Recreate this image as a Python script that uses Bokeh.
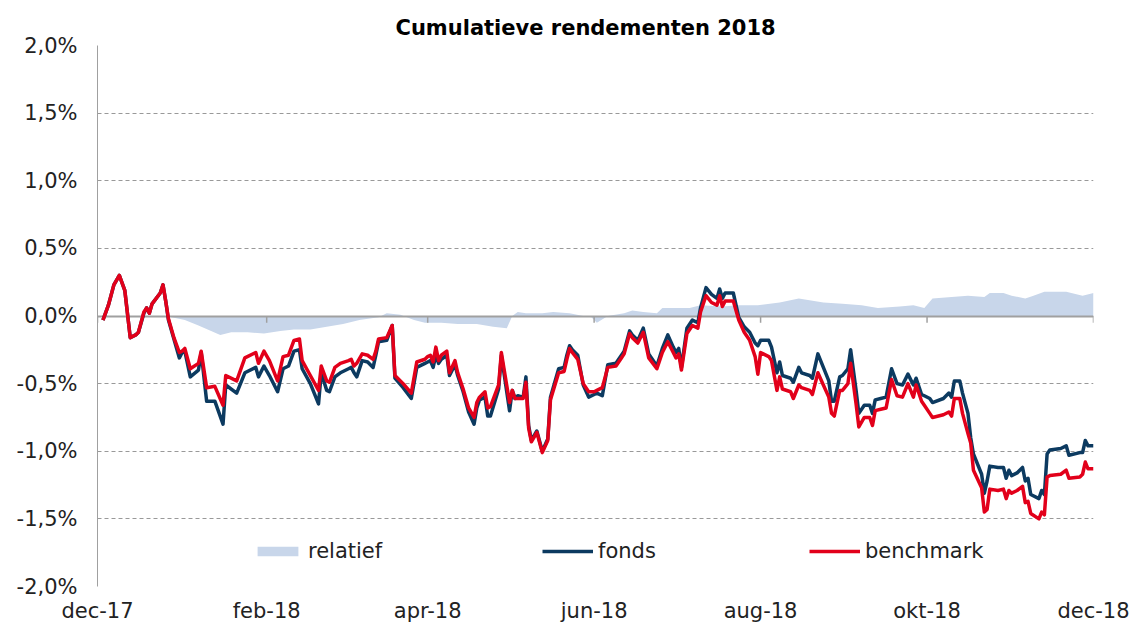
import pandas as pd
from bokeh.plotting import figure
from bokeh.models import Range1d, FixedTicker, Legend, LegendItem
from bokeh.embed import file_html
from bokeh.resources import INLINE

# ---------------- data ----------------
dates = [
    "2017-12-03", "2017-12-05", "2017-12-07", "2017-12-09", "2017-12-11", "2017-12-13", "2017-12-15", "2017-12-16",
    "2017-12-18", "2017-12-19", "2017-12-20", "2017-12-21", "2017-12-24", "2017-12-25", "2017-12-26", "2017-12-27",
    "2017-12-29", "2017-12-31", "2018-01-01", "2018-01-02", "2018-01-04", "2018-01-07", "2018-01-08", "2018-01-10",
    "2018-01-13", "2018-01-16", "2018-01-17", "2018-01-21", "2018-01-24", "2018-01-28", "2018-01-29", "2018-01-31",
    "2018-02-02", "2018-02-05", "2018-02-07", "2018-02-09", "2018-02-11", "2018-02-13", "2018-02-14", "2018-02-17",
    "2018-02-20", "2018-02-21", "2018-02-23", "2018-02-24", "2018-02-26", "2018-02-28", "2018-03-03", "2018-03-04",
    "2018-03-05", "2018-03-06", "2018-03-08", "2018-03-10", "2018-03-12", "2018-03-13", "2018-03-14", "2018-03-17",
    "2018-03-19", "2018-03-20", "2018-03-23", "2018-03-26", "2018-03-28", "2018-03-31", "2018-04-01", "2018-04-02",
    "2018-04-03", "2018-04-04", "2018-04-05", "2018-04-06", "2018-04-08", "2018-04-09", "2018-04-11", "2018-04-12",
    "2018-04-14", "2018-04-16", "2018-04-18", "2018-04-19", "2018-04-20", "2018-04-22", "2018-04-23", "2018-04-24",
    "2018-04-27", "2018-04-28", "2018-05-01", "2018-05-02", "2018-05-03", "2018-05-04", "2018-05-06", "2018-05-07",
    "2018-05-08", "2018-05-09", "2018-05-11", "2018-05-13", "2018-05-15", "2018-05-16", "2018-05-19", "2018-05-21",
    "2018-05-22", "2018-05-23", "2018-05-24", "2018-05-26", "2018-05-28", "2018-05-30", "2018-06-01", "2018-06-02",
    "2018-06-04", "2018-06-06", "2018-06-09", "2018-06-11", "2018-06-12", "2018-06-14", "2018-06-15", "2018-06-17",
    "2018-06-19", "2018-06-21", "2018-06-24", "2018-06-26", "2018-06-28", "2018-06-30", "2018-07-01", "2018-07-02",
    "2018-07-03", "2018-07-05", "2018-07-07", "2018-07-09", "2018-07-10", "2018-07-12", "2018-07-14", "2018-07-16",
    "2018-07-17", "2018-07-18", "2018-07-19", "2018-07-22", "2018-07-24", "2018-07-26", "2018-07-28", "2018-07-30",
    "2018-07-31", "2018-08-01", "2018-08-04", "2018-08-05", "2018-08-07", "2018-08-08", "2018-08-09", "2018-08-12",
    "2018-08-13", "2018-08-15", "2018-08-16", "2018-08-19", "2018-08-20", "2018-08-22", "2018-08-24", "2018-08-26",
    "2018-08-27", "2018-08-28", "2018-08-30", "2018-08-31", "2018-09-02", "2018-09-03", "2018-09-05", "2018-09-06",
    "2018-09-08", "2018-09-10", "2018-09-11", "2018-09-12", "2018-09-14", "2018-09-16", "2018-09-18", "2018-09-20",
    "2018-09-22", "2018-09-24", "2018-09-26", "2018-09-27", "2018-09-29", "2018-09-30", "2018-10-02", "2018-10-03",
    "2018-10-07", "2018-10-09", "2018-10-10", "2018-10-11", "2018-10-13", "2018-10-14", "2018-10-16", "2018-10-17",
    "2018-10-18", "2018-10-21", "2018-10-22", "2018-10-23", "2018-10-24", "2018-10-27", "2018-10-29", "2018-10-30",
    "2018-10-31", "2018-11-01", "2018-11-03", "2018-11-05", "2018-11-06", "2018-11-07", "2018-11-08", "2018-11-11",
    "2018-11-12", "2018-11-13", "2018-11-14", "2018-11-15", "2018-11-19", "2018-11-21", "2018-11-22", "2018-11-26",
    "2018-11-27", "2018-11-28", "2018-11-29", "2018-12-01",
]

fonds = [
    -0.03, 0.08, 0.23, 0.30, 0.19, -0.16, -0.14, -0.12,
    0.02, 0.06, 0.02, 0.09, 0.17, 0.23, 0.11, -0.03,
    -0.17, -0.31, -0.27, -0.26, -0.45, -0.40, -0.27, -0.63,
    -0.63, -0.80, -0.51, -0.57, -0.42, -0.38, -0.45, -0.37,
    -0.44, -0.56, -0.39, -0.37, -0.26, -0.25, -0.39, -0.50,
    -0.65, -0.42, -0.55, -0.56, -0.45, -0.42, -0.39, -0.38,
    -0.42, -0.45, -0.33, -0.34, -0.38, -0.29, -0.19, -0.18,
    -0.07, -0.46, -0.53, -0.61, -0.38, -0.35, -0.34, -0.33,
    -0.38, -0.29, -0.35, -0.32, -0.29, -0.44, -0.36, -0.44,
    -0.56, -0.71, -0.80, -0.68, -0.62, -0.60, -0.74, -0.74,
    -0.54, -0.29, -0.70, -0.55, -0.61, -0.59, -0.60, -0.45,
    -0.81, -0.92, -0.85, -1.00, -0.91, -0.60, -0.39, -0.38,
    -0.29, -0.22, -0.25, -0.29, -0.51, -0.60, -0.58, -0.57,
    -0.59, -0.36, -0.35, -0.29, -0.26, -0.11, -0.14, -0.18,
    -0.09, -0.28, -0.37, -0.24, -0.14, -0.23, -0.27, -0.24,
    -0.38, -0.09, -0.03, -0.05, 0.06, 0.21, 0.16, 0.13,
    0.20, 0.13, 0.17, 0.17, -0.01, -0.08, -0.12, -0.20,
    -0.22, -0.18, -0.18, -0.23, -0.42, -0.34, -0.44, -0.46,
    -0.49, -0.38, -0.42, -0.44, -0.46, -0.28, -0.38, -0.48,
    -0.63, -0.63, -0.45, -0.44, -0.39, -0.25, -0.55, -0.72,
    -0.66, -0.66, -0.72, -0.62, -0.61, -0.60, -0.39, -0.50,
    -0.51, -0.43, -0.51, -0.46, -0.58, -0.59, -0.61, -0.64,
    -0.61, -0.57, -0.60, -0.48, -0.48, -0.57, -0.72, -0.90,
    -1.02, -1.17, -1.31, -1.22, -1.11, -1.12, -1.12, -1.20,
    -1.14, -1.18, -1.16, -1.12, -1.22, -1.20, -1.32, -1.35,
    -1.29, -1.32, -1.02, -0.99, -0.98, -0.96, -1.03, -1.01,
    -1.01, -0.92, -0.96, -0.96,
]

benchmark = [
    -0.03, 0.08, 0.23, 0.30, 0.19, -0.16, -0.14, -0.12,
    0.03, 0.06, 0.02, 0.09, 0.17, 0.23, 0.11, -0.02,
    -0.16, -0.27, -0.26, -0.24, -0.39, -0.35, -0.26, -0.53,
    -0.52, -0.66, -0.44, -0.48, -0.31, -0.27, -0.35, -0.26,
    -0.33, -0.48, -0.30, -0.29, -0.18, -0.17, -0.33, -0.44,
    -0.55, -0.37, -0.48, -0.49, -0.38, -0.35, -0.33, -0.32,
    -0.37, -0.35, -0.28, -0.29, -0.32, -0.26, -0.17, -0.16,
    -0.07, -0.44, -0.50, -0.57, -0.34, -0.32, -0.30, -0.29,
    -0.34, -0.23, -0.33, -0.29, -0.26, -0.42, -0.33, -0.42,
    -0.54, -0.68, -0.75, -0.64, -0.60, -0.56, -0.68, -0.67,
    -0.51, -0.27, -0.64, -0.55, -0.61, -0.61, -0.61, -0.49,
    -0.83, -0.93, -0.86, -1.01, -0.92, -0.62, -0.42, -0.41,
    -0.32, -0.24, -0.27, -0.32, -0.50, -0.56, -0.56, -0.55,
    -0.53, -0.38, -0.37, -0.31, -0.28, -0.13, -0.16, -0.20,
    -0.12, -0.31, -0.39, -0.27, -0.19, -0.27, -0.31, -0.28,
    -0.40, -0.13, -0.07, -0.09, 0.03, 0.15, 0.10, 0.08,
    0.15, 0.07, 0.11, 0.11, -0.03, -0.12, -0.18, -0.30,
    -0.43, -0.27, -0.30, -0.33, -0.55, -0.45, -0.54, -0.56,
    -0.61, -0.51, -0.53, -0.55, -0.58, -0.42, -0.51, -0.60,
    -0.72, -0.74, -0.55, -0.55, -0.50, -0.35, -0.65, -0.82,
    -0.75, -0.75, -0.81, -0.70, -0.69, -0.68, -0.47, -0.59,
    -0.60, -0.50, -0.60, -0.51, -0.63, -0.66, -0.72, -0.75,
    -0.73, -0.71, -0.74, -0.61, -0.61, -0.72, -0.87, -0.94,
    -1.14, -1.27, -1.45, -1.43, -1.28, -1.29, -1.28, -1.35,
    -1.29, -1.31, -1.29, -1.26, -1.38, -1.37, -1.46, -1.50,
    -1.45, -1.47, -1.19, -1.18, -1.17, -1.14, -1.20, -1.19,
    -1.17, -1.08, -1.13, -1.13,
]

rel_dates = [
    "2017-12-03", "2017-12-26", "2018-01-02", "2018-01-07", "2018-01-15", "2018-01-19", "2018-01-25", "2018-01-31",
    "2018-02-06", "2018-02-11", "2018-02-17", "2018-02-23", "2018-03-01", "2018-03-07", "2018-03-14", "2018-03-17",
    "2018-03-22", "2018-03-27", "2018-03-31", "2018-04-06", "2018-04-12", "2018-04-19", "2018-04-25", "2018-04-30",
    "2018-05-02", "2018-05-04", "2018-05-07", "2018-05-13", "2018-05-17", "2018-05-23", "2018-05-28", "2018-05-31",
    "2018-06-02", "2018-06-06", "2018-06-12", "2018-06-15", "2018-06-19", "2018-06-24", "2018-06-26", "2018-06-30",
    "2018-07-06", "2018-07-10", "2018-07-18", "2018-07-24", "2018-07-31", "2018-08-08", "2018-08-15", "2018-08-24",
    "2018-08-31", "2018-09-07", "2018-09-13", "2018-09-21", "2018-09-26", "2018-09-30", "2018-10-03", "2018-10-10",
    "2018-10-16", "2018-10-22", "2018-10-24", "2018-10-29", "2018-11-01", "2018-11-06", "2018-11-09", "2018-11-13",
    "2018-11-21", "2018-11-27", "2018-12-01",
]
relatief = [
    0.00, 0.00, -0.03, -0.07, -0.14, -0.12, -0.12, -0.13,
    -0.11, -0.10, -0.10, -0.08, -0.06, -0.03, -0.01, 0.02,
    0.01, -0.03, -0.05, -0.05, -0.06, -0.06, -0.08, -0.09,
    0.00, 0.03, 0.02, 0.02, 0.03, 0.02, 0.00, -0.01,
    -0.05, 0.00, 0.02, 0.04, 0.03, 0.02, 0.06, 0.06,
    0.06, 0.08, 0.07, 0.08, 0.08, 0.10, 0.13, 0.10,
    0.09, 0.08, 0.06, 0.07, 0.08, 0.06, 0.13, 0.14,
    0.15, 0.14, 0.17, 0.17, 0.15, 0.13, 0.15, 0.18,
    0.18, 0.15, 0.17,
]

y_ticks = [-2.0, -1.5, -1.0, -0.5, 0.0, 0.5, 1.0, 1.5, 2.0]
y_labels = ["-2,0%", "-1,5%", "-1,0%", "-0,5%", "0,0%", "0,5%", "1,0%", "1,5%", "2,0%"]
x_tick_dates = ["2017-12-01", "2018-02-01", "2018-04-01", "2018-06-01", "2018-08-01", "2018-10-01", "2018-12-01"]
x_labels = ["dec-17", "feb-18", "apr-18", "jun-18", "aug-18", "okt-18", "dec-18"]

series_names = ["relatief", "fonds", "benchmark"]
title_text = "Cumulatieve rendementen 2018"

assert len(dates) == len(fonds) == len(benchmark)
assert len(rel_dates) == len(relatief)

# ---------------- styling ----------------
FONT = "DejaVu Sans"
C_AREA = "#c8d6ea"
C_FONDS = "#0c3a60"
C_BENCH = "#e2001a"
C_TEXT = "#222222"
C_GRID = "#999999"
C_AXIS = "#a0a0a0"

x_dt = pd.to_datetime(dates)
rel_dt = pd.to_datetime(rel_dates)
tick_ms = [float(pd.Timestamp(d).value // 10**6) for d in x_tick_dates]

p = figure(
    frame_width=996, frame_height=541,
    min_border_left=97, min_border_right=37, min_border_top=45, min_border_bottom=0,
    x_axis_type="datetime",
    x_range=Range1d(pd.Timestamp(x_tick_dates[0]), pd.Timestamp(x_tick_dates[-1])),
    y_range=Range1d(y_ticks[0], y_ticks[-1]),
    output_backend="svg", toolbar_location=None,
    title=title_text,
)
p.outline_line_color = None
p.background_fill_color = "white"

p.title.text_font = FONT
p.title.text_font_style = "bold"
p.title.text_font_size = "21px"
p.title.text_color = "black"
p.title.align = "left"
p.title.offset = 298
p.title.standoff = 12

# grid
p.xgrid.visible = False
p.ygrid.ticker = FixedTicker(ticks=[t for t in y_ticks if t != 0])
p.ygrid.grid_line_color = C_GRID
p.ygrid.grid_line_dash = "4 3"
p.ygrid.grid_line_width = 1

# y axis
p.yaxis.ticker = FixedTicker(ticks=y_ticks)
p.yaxis.major_label_overrides = {t: l for t, l in zip(y_ticks, y_labels)}
p.yaxis.axis_line_color = C_AXIS
p.yaxis.axis_line_width = 1
p.yaxis.major_tick_line_color = None
p.yaxis.minor_tick_line_color = None
p.yaxis.major_tick_out = 0
p.yaxis.major_label_standoff = 20
p.yaxis.major_label_text_font = FONT
p.yaxis.major_label_text_font_size = "21px"
p.yaxis.major_label_text_color = C_TEXT

# x axis (labels at the bottom, line drawn at zero)
p.xaxis.ticker = FixedTicker(ticks=tick_ms)
p.xaxis.major_label_overrides = {t: l for t, l in zip(tick_ms, x_labels)}
p.xaxis.axis_line_color = None
p.xaxis.major_tick_line_color = None
p.xaxis.minor_tick_line_color = None
p.xaxis.major_tick_out = 0
p.xaxis.major_label_standoff = 12
p.xaxis.major_label_text_font = FONT
p.xaxis.major_label_text_font_size = "21px"
p.xaxis.major_label_text_color = C_TEXT

# relatief area
area = p.varea(x=rel_dt, y1=0, y2=relatief, fill_color=C_AREA, fill_alpha=1.0)

# zero axis line and its ticks
p.hspan(y=[0], line_color=C_AXIS, line_width=2)
tick_dt = pd.to_datetime(x_tick_dates)
p.segment(x0=tick_dt, y0=[0] * len(tick_dt), x1=tick_dt, y1=[-0.05] * len(tick_dt),
          line_color=C_AXIS, line_width=1.5)

# lines
lf = p.line(x_dt, fonds, line_color=C_FONDS, line_width=3.5, line_join="round")
lb = p.line(x_dt, benchmark, line_color=C_BENCH, line_width=3.5, line_join="round")

# legends, each placed on its own
def make_legend(label, rend, xpos):
    leg = Legend(items=[LegendItem(label=label, renderers=[rend])], location=(xpos, 23),
                 orientation="horizontal", padding=0, margin=0, spacing=0,
                 border_line_color=None, background_fill_alpha=0,
                 glyph_width=51, glyph_height=12, label_standoff=5, label_height=24,
                 label_text_font=FONT, label_text_font_size="21px", label_text_color=C_TEXT)
    p.add_layout(leg)

make_legend(series_names[0], area, 155)
make_legend(series_names[1], lf, 445)
make_legend(series_names[2], lb, 712)

open("out.html", "w").write(file_html(p, INLINE))
